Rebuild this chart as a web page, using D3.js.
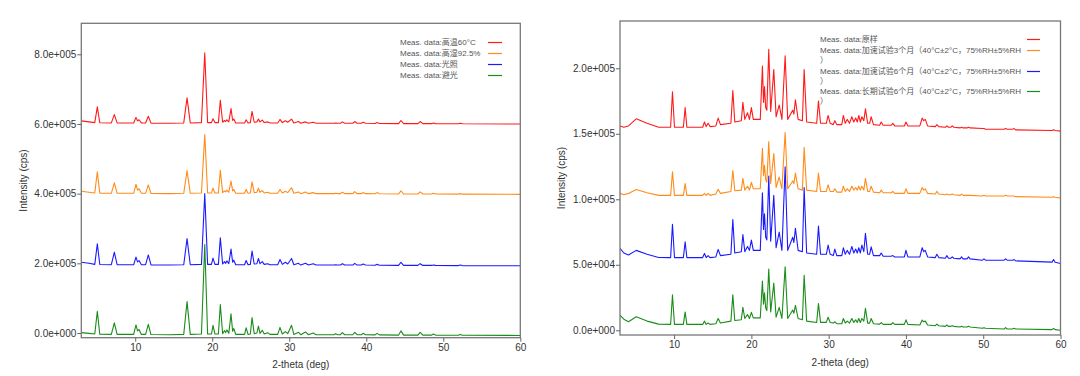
<!DOCTYPE html>
<html><head><meta charset="utf-8">
<script src="https://cdn.jsdelivr.net/npm/d3@7"></script>
<style>
body{margin:0;background:#fff}
svg text{font-family:"Liberation Sans",Arial,"Noto Sans CJK SC",sans-serif}
</style>
</head><body>
<svg id="c" width="1080" height="376"></svg>
<script>
// ---------- DATA (intensities in kcps, relative to each trace's stacking offset) ----------
const K = 1000;
const xTicks = [10, 20, 30, 40, 50, 60];

// Left panel
const leftTheta = [
  3.0, 4.0, 4.75, 5.08, 5.4, 6.9, 7.29, 7.65, 9.8, 10.1,
  10.3, 10.5, 10.8, 11.35, 11.7, 12.05, 14.5, 16.3, 16.73, 17.15,
  18.6, 19.03, 19.4, 19.9, 20.1, 20.35, 20.8, 21.05, 21.35, 21.6,
  21.75, 21.9, 22.15, 22.44, 22.65, 22.8, 23.05, 24.2, 24.4, 24.65,
  24.95, 25.17, 25.45, 25.8, 26.0, 26.2, 26.5, 26.75, 27.2, 27.5,
  28.5, 28.8, 29.1, 29.5, 29.8, 30.3, 30.6, 31.2, 31.5, 32.1,
  32.5, 33.1, 33.5, 35.8, 36.0, 36.3, 36.65, 36.9, 37.2, 38.25,
  38.5, 38.8, 39.35, 39.6, 39.9, 41.15, 41.4, 41.7, 44.2, 44.5,
  44.85, 46.7, 47.0, 47.35, 48.5, 48.7, 49.0, 51.95, 52.2, 52.5,
  60.0];
const leftRed = [
  9, 6, 4, 49, 3.5, 3, 27, 3, 3, 19,
  9, 12, 3, 3, 22, 2.5, 2, 3, 75, 3,
  4, 204, 4, 4, 15, 4, 4, 68, 5, 10,
  7, 12, 6, 44, 10, 14, 3, 3, 12, 3,
  4, 36, 5, 6, 14, 6, 11, 4, 6, 3,
  3, 13, 4, 9, 5, 14, 3, 7, 2, 6,
  2, 5, 2, 2, 3, 2, 2, 6, 2, 2,
  7, 2, 2, 5, 2, 1.5, 4, 1.5, 1, 10,
  1, 1, 7, 1, 1, 3, 1, 0.5, 2, 0.5,
  0];
const leftOrange = [
  9, 6, 4, 65, 3.5, 3, 33, 3, 3, 29,
  12, 16, 3, 3, 27, 2.5, 2, 3, 68, 3,
  4, 172, 4, 4, 18, 4, 4, 69, 5, 10,
  7, 12, 6, 38, 10, 14, 3, 3, 14, 3,
  4, 36, 5, 6, 18, 6, 11, 4, 6, 3,
  3, 14, 4, 9, 5, 19, 3, 7, 2, 7,
  2, 5, 2, 2, 3, 2, 2, 6, 2, 2,
  8, 2, 2, 5, 2, 1.5, 5, 1.5, 1, 10,
  1, 1, 7, 1, 1, 3, 1, 0.5, 2, 0.5,
  0];
const leftBlue = [
  10, 7, 4, 63, 3.5, 3, 39, 3, 3, 25,
  11, 15, 3, 3, 31, 2.5, 2, 3, 78, 3,
  4, 207, 4, 4, 22, 4, 4, 80, 5, 12,
  7, 14, 6, 48, 10, 16, 3, 3, 15, 3,
  4, 42, 5, 6, 21, 6, 12, 4, 6, 3,
  3, 18, 4, 10, 5, 21, 3, 7, 2, 7,
  2, 6, 2, 2, 3, 2, 2, 6, 2, 2,
  7, 2, 2, 5, 2, 1.5, 4, 1.5, 1, 10,
  1, 1, 6, 1, 1, 2, 1, 0.5, 2, 0.5,
  0];
const leftGreen = [
  8, 6, 4, 69, 3.5, 3, 36, 3, 3, 30,
  13, 17, 3, 3, 32, 2.5, 2, 3, 97, 3,
  4, 261, 4, 4, 29, 4, 4, 89, 5, 14,
  8, 16, 6, 62, 12, 20, 3, 3, 22, 3,
  4, 51, 5, 7, 27, 6, 15, 4, 8, 3,
  3, 23, 4, 11, 5, 29, 3, 9, 2, 10,
  2, 7, 2, 2, 5, 2, 2, 8, 2, 2,
  9, 2, 2, 6, 2, 1.5, 6, 1.5, 1, 13,
  1, 1, 9, 1, 1, 4, 1, 0.5, 3, 0.5,
  0];
const leftOffsets = [600, 398, 193, -7];
const leftYTicks = [0, 200000, 400000, 600000, 800000];
const leftLabels = [["Meas. data:高温60°C"], ["Meas. data:高湿92.5%"], ["Meas. data:光照"], ["Meas. data:避光"]];

// Right panel
const rightTheta = [
  3.0, 3.5, 4.1, 5.1, 6.5, 8.0, 9.55, 9.79, 10.05, 11.2,
  11.43, 11.65, 13.7, 13.93, 14.15, 14.4, 14.65, 15.4, 15.7, 16.0,
  17.35, 17.6, 17.85, 18.7, 18.9, 19.15, 19.5, 19.75, 20.0, 20.25,
  21.15, 21.43, 21.57, 21.7, 21.85, 22.0, 22.25, 22.5, 22.9, 23.2,
  23.6, 23.95, 24.37, 24.7, 25.35, 25.5, 25.7, 26.05, 26.6, 26.83,
  27.15, 28.45, 28.68, 28.95, 29.7, 29.93, 30.2, 30.6, 30.8, 31.05,
  31.7, 31.9, 32.15, 32.4, 32.7, 33.0, 33.25, 33.5, 33.7, 33.9,
  34.1, 34.3, 34.55, 34.76, 35.05, 35.3, 35.5, 35.8, 36.6, 36.8,
  37.05, 38.1, 38.3, 38.55, 39.8, 40.0, 40.25, 41.8, 42.1, 42.3,
  42.5, 42.8, 43.8, 44.0, 44.25, 45.1, 45.3, 45.5, 45.8, 46.0,
  46.2, 47.0, 47.2, 47.4, 47.9, 48.1, 48.3, 49.9, 50.1, 50.3,
  52.7, 52.9, 53.1, 53.8, 54.0, 54.2, 58.9, 59.1, 59.3, 60.0];
const rightRed = [
  4, 3, 4, 9.4, 6, 3, 3, 30, 3, 3,
  18, 3, 3, 7, 3.5, 6, 3.5, 4, 10, 5,
  6, 31, 7, 8, 22, 9, 14, 9, 18, 9,
  9, 49.7, 22, 34, 18, 16, 62.5, 15, 47, 11,
  20, 9, 57.5, 9, 16, 13, 24, 9, 8, 47,
  7, 6, 23, 6, 6, 12, 6, 5, 8, 5,
  5, 12, 6, 9, 6, 11, 7, 10, 7, 12,
  7, 11, 8, 17, 6, 6, 11, 5, 4.5, 7,
  4.5, 4.5, 6, 4, 4, 7, 4, 4, 10, 8,
  9, 4, 3.5, 5, 3.5, 3, 4, 3, 3, 4,
  3, 2.5, 3, 2.5, 2.5, 3, 2.5, 2, 2, 1.5,
  1.5, 2, 1.5, 1.5, 2, 1, 0.5, 1, 0.5, 0];
const rightOrange = [
  3.5, 2.5, 3.5, 6.5, 4, 2, 2, 20, 2, 2,
  11, 2, 2, 3.5, 2, 3.5, 2, 3, 6.7, 3.5,
  5, 21, 5.5, 6, 15, 6, 9, 6, 12, 7,
  7, 38, 17, 25, 14, 12, 43, 11, 34, 8,
  16, 7, 50, 7, 13, 11, 19, 7, 6, 38.6,
  6, 5, 19, 5, 5, 10, 5, 5, 7, 4.5,
  4.5, 9, 5, 7, 5, 9, 6, 8, 6, 9,
  6, 9, 6, 15, 5, 5, 9, 4.5, 4, 6,
  4, 4, 5, 3.5, 3.5, 7, 3.5, 3.5, 8, 6,
  7, 3.5, 3, 5, 3, 2.5, 3, 2.5, 2.5, 3,
  2.5, 2, 3, 2, 2, 2, 2, 1.5, 2, 1.5,
  1.5, 2, 1.5, 1.5, 1.5, 1, 0.5, 1, 0.5, 0];
const rightBlue = [
  11.5, 8, 6.5, 10, 7, 4.6, 4.5, 30, 4.5, 4.5,
  16.6, 4.5, 4.5, 7.7, 4.5, 6, 4.5, 5, 10.7, 6,
  7, 33.6, 8, 9, 22, 9, 13, 10, 17.8, 10,
  10, 54, 26, 38, 20, 18, 66.7, 17, 52, 12,
  24, 10, 73.8, 10, 20, 16, 26.8, 10, 9, 58,
  8, 7, 28.5, 7, 7, 14, 7, 6, 11, 6,
  6, 12, 7, 10, 7, 13, 8, 11, 8, 12,
  8, 14, 9, 23, 7, 7, 12.7, 6, 6, 8,
  5.5, 5.5, 6, 5, 5, 10, 5, 5, 12, 9,
  10, 5, 4.5, 7, 4.5, 4, 6, 4, 4, 5,
  4, 3.5, 5, 3.5, 3.5, 5, 3.5, 2.5, 3.5, 2.5,
  2.5, 3.5, 2.5, 2.5, 3, 2, 1, 3, 1, 0];
const rightGreen = [
  11.6, 8.5, 6.5, 10.3, 7, 4.7, 4.5, 27, 4.5, 4.5,
  14, 4.5, 4.5, 7, 4.5, 5.5, 4.5, 5, 9, 5.5,
  7, 27, 7.5, 8, 17.5, 9, 12, 9, 13.7, 9.5,
  9.5, 37.6, 20, 28.6, 17, 15, 46.7, 14, 36, 10,
  17.5, 9, 48.5, 9, 15.5, 13, 19, 9, 8, 42,
  7, 6, 20.5, 6, 6, 10, 6, 5.5, 6.5, 5,
  5, 9, 5.5, 7, 5.5, 9, 6, 8, 6, 9,
  6, 9, 7, 16.7, 5.5, 5.5, 9, 5, 4.7, 5.8,
  4.5, 4.5, 5.8, 4.5, 4.5, 8, 4.5, 4, 7.8, 6.5,
  7, 4, 3.5, 4.7, 3.5, 3, 4, 3, 3, 3.5,
  3, 2.5, 3, 2.5, 2.5, 3, 2.5, 1.5, 2, 1.5,
  1, 2, 1, 1, 1.5, 1, 0.5, 1.5, 0.5, 0];
const rightOffsets = [152, 101, 51, 0];
const rightYTicks = [0, 50000, 100000, 150000, 200000];
const rightLabels = [
  ["Meas. data:原样"],
  ["Meas. data:加速试验3个月（40°C±2°C，75%RH±5%RH", "）"],
  ["Meas. data:加速试验6个月（40°C±2°C，75%RH±5%RH", "）"],
  ["Meas. data:长期试验6个月（40°C±2°C，75%RH±5%RH", "）"]];

const seriesColors = ["#ff1a1a", "#ff8c1a", "#1a1aff", "#1a8c1a"];

// ---------- RENDER ----------
const svg = d3.select("#c");
svg.append("rect").attr("width", 1080).attr("height", 376).attr("fill", "#fff");

function fmtExp(v) {
  if (v === 0) return "0.0e+000";
  const e = Math.floor(Math.log10(Math.abs(v)));
  const m = v / Math.pow(10, e);
  return m.toFixed(1) + "e+" + String(e).padStart(3, "0");
}

function panel(cfg) {
  const g = svg.append("g");
  const x = d3.scaleLinear().domain([3, 60]).range([cfg.left, cfg.right]);
  const y = d3.scaleLinear().domain(cfg.yDomain).range([cfg.bottom, cfg.top]);
  const clipId = "clip" + cfg.id;
  g.append("clipPath").attr("id", clipId).append("rect")
    .attr("x", cfg.left).attr("y", cfg.top)
    .attr("width", cfg.right - cfg.left).attr("height", cfg.bottom - cfg.top);

  const line = d3.line().x(d => x(d[0])).y(d => y(d[1]));
  const lg = g.append("g").attr("clip-path", `url(#${clipId})`);
  cfg.series.forEach((vals, si) => {
    const pts = cfg.theta.map((t, i) => [t, (vals[i] + cfg.offsets[si]) * K]);
    lg.append("path").attr("d", line(pts)).attr("fill", "none")
      .attr("stroke", seriesColors[si]).attr("stroke-width", 1.1)
      .attr("stroke-linejoin", "round");
  });

  // frame
  g.append("rect").attr("x", cfg.left).attr("y", cfg.top)
    .attr("width", cfg.right - cfg.left).attr("height", cfg.bottom - cfg.top)
    .attr("fill", "none").attr("stroke", "#777").attr("stroke-width", 1.3);

  const ya = g.append("g").attr("transform", `translate(${cfg.left},0)`)
    .call(d3.axisLeft(y).tickValues(cfg.yTicks).tickFormat(fmtExp).tickSize(4).tickPadding(1));
  const xa = g.append("g").attr("transform", `translate(0,${cfg.bottom})`)
    .call(d3.axisBottom(x).tickValues(xTicks).tickFormat(d3.format("d")).tickSize(4).tickPadding(2));
  [ya, xa].forEach(a => {
    a.select(".domain").remove();
    a.selectAll(".tick line").attr("stroke", "#666");
    a.selectAll(".tick text").attr("fill", "#333").attr("font-size", 10)
      .attr("font-family", '"Liberation Sans", Arial, sans-serif');
  });

  g.append("text").attr("transform", `translate(${cfg.ytitleX},${(cfg.top + cfg.bottom) / 2}) rotate(-90)`)
    .attr("text-anchor", "middle").attr("dy", "0.35em").attr("font-size", 10).attr("fill", "#333")
    .text("Intensity (cps)");
  g.append("text").attr("x", (cfg.left + cfg.right) / 2).attr("y", cfg.xtitleY)
    .attr("text-anchor", "middle").attr("dy", "0.35em").attr("font-size", 10).attr("fill", "#333")
    .text("2-theta (deg)");

  // legend
  const leg = g.append("g");
  cfg.labels.forEach((lines, i) => {
    const yy = cfg.legendY[i];
    lines.forEach((s, j) => {
      leg.append("text").attr("x", cfg.legendX).attr("y", yy + j * cfg.legendLine)
        .attr("dy", "0.35em").attr("font-size", 8).attr("fill", "#555").text(s);
    });
    leg.append("line").attr("x1", cfg.swatch[0]).attr("x2", cfg.swatch[1])
      .attr("y1", yy).attr("y2", yy).attr("stroke", seriesColors[i]).attr("stroke-width", 1.2);
  });
}

panel({
  id: "L", left: 81.3, right: 520.3, top: 23.3, bottom: 337.7,
  yDomain: [-13500, 889000], yTicks: leftYTicks,
  theta: leftTheta, series: [leftRed, leftOrange, leftBlue, leftGreen], offsets: leftOffsets,
  labels: leftLabels, legendX: 400, legendY: [42.5, 53.5, 64.5, 75.5], legendLine: 10,
  swatch: [488, 502], ytitleX: 23.5, xtitleY: 364
});
panel({
  id: "R", left: 620, right: 1060.5, top: 21, bottom: 335,
  yDomain: [-3600, 236100], yTicks: rightYTicks,
  theta: rightTheta, series: [rightRed, rightOrange, rightBlue, rightGreen], offsets: rightOffsets,
  labels: rightLabels, legendX: 820, legendY: [39.5, 50.5, 71.5, 91.5], legendLine: 9.6,
  swatch: [1027, 1040], ytitleX: 561.5, xtitleY: 362
});
</script>
</body></html>
